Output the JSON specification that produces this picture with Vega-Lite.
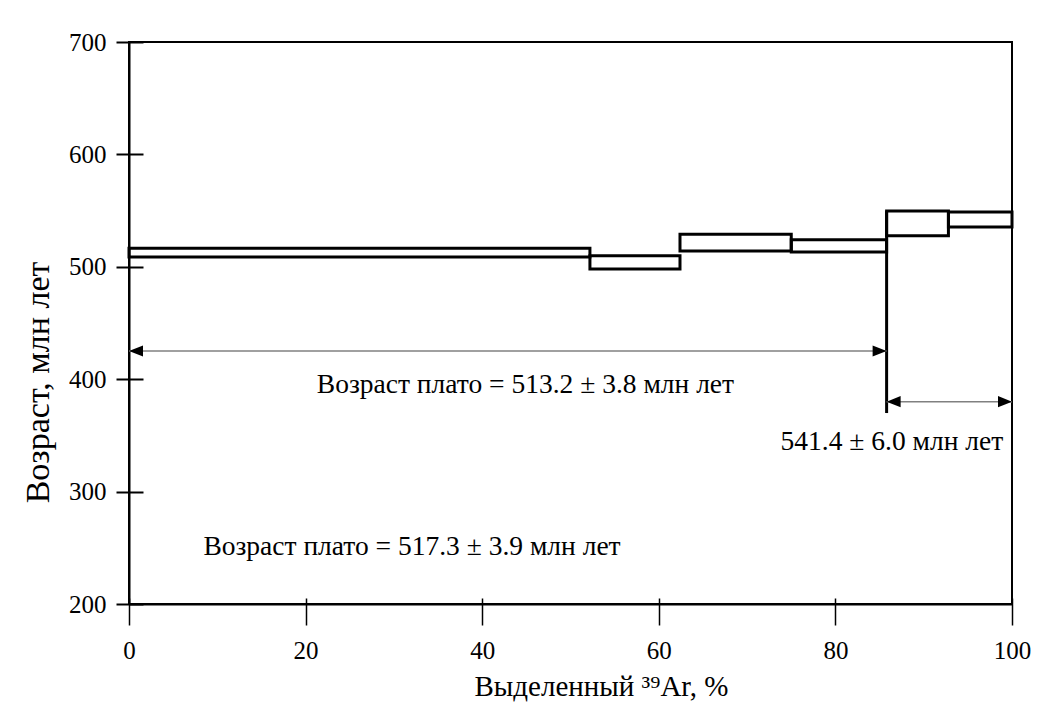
{
  "$schema": "https://vega.github.io/schema/vega-lite/v6.json",
  "width": 883,
  "height": 562,
  "autosize": {"type": "none"},
  "padding": {"left": 129, "top": 42, "right": 37, "bottom": 98},
  "background": "white",
  "config": {
    "view": {"stroke": "black", "strokeWidth": 2},
    "font": "Liberation Serif"
  },
  "resolve": {"axis": {"x": "independent", "y": "independent"}},
  "datasets": {
    "steps": [
      {"x1": 0, "x2": 52.2, "lo": 508.7, "hi": 516.4},
      {"x1": 52.2, "x2": 62.4, "lo": 498.0, "hi": 509.9},
      {"x1": 62.4, "x2": 75.0, "lo": 514.1, "hi": 528.9},
      {"x1": 75.0, "x2": 85.8, "lo": 513.2, "hi": 524.1},
      {"x1": 85.8, "x2": 92.8, "lo": 527.7, "hi": 549.6},
      {"x1": 92.8, "x2": 100, "lo": 535.4, "hi": 548.8}
    ],
    "divider": [{"x": 85.8, "y1": 369.9, "y2": 549.6}],
    "arrows": [
      {"x1": 0, "x2": 85.8, "y": 425.1},
      {"x1": 85.8, "x2": 100, "y": 380.0}
    ],
    "labels": [
      {"x": 44.9, "y": 394.8, "label": "Возраст плато = 513.2 ± 3.8 млн лет"},
      {"x": 86.4, "y": 344.1, "label": "541.4 ± 6.0 млн лет"},
      {"x": 32.05, "y": 250.7, "label": "Возраст плато = 517.3 ± 3.9 млн лет"}
    ]
  },
  "layer": [
    {
      "data": {"name": "steps"},
      "mark": {"type": "rect", "fill": null, "fillOpacity": 0, "stroke": "black", "strokeWidth": 3},
      "encoding": {
        "x": {
          "field": "x1", "type": "quantitative",
          "scale": {"domain": [0, 100], "nice": false, "zero": false},
          "axis": {
            "orient": "bottom",
            "title": "Выделенный ³⁹Ar, %",
            "values": [0, 20, 40, 60, 80, 100],
            "grid": false,
            "domainColor": "black", "domainWidth": 2,
            "tickColor": "black", "tickWidth": 1.5, "tickSize": 21,
            "labelFont": "Liberation Serif", "labelFontSize": 25, "labelColor": "black",
            "labelPadding": 13, "labelFlush": false,
            "titleFont": "Liberation Serif", "titleFontSize": 29, "titleFontWeight": "normal", "titleColor": "black",
            "titleBaseline": "alphabetic", "titleY": 91, "titleX": 472, "titleAlign": "center"
          }
        },
        "x2": {"field": "x2"},
        "y": {
          "field": "lo", "type": "quantitative",
          "scale": {"domain": [200, 700], "nice": false, "zero": false},
          "axis": {
            "orient": "left",
            "title": "Возраст, млн лет",
            "values": [200, 300, 400, 500, 600, 700],
            "grid": false,
            "domainColor": "black", "domainWidth": 2,
            "tickColor": "black", "tickWidth": 2, "tickSize": 13,
            "labelFont": "Liberation Serif", "labelFontSize": 25, "labelColor": "black",
            "labelPadding": 10, "labelFlush": false,
            "titleFont": "Liberation Serif", "titleFontSize": 34, "titleFontWeight": "normal", "titleColor": "black",
            "titleAngle": 270, "titleBaseline": "alphabetic", "titleX": -81, "titleY": 340, "titleAlign": "center"
          }
        },
        "y2": {"field": "hi"}
      }
    },
    {
      "data": {"name": "steps"},
      "mark": {"type": "rect", "opacity": 0},
      "encoding": {
        "x": {"field": "x1", "type": "quantitative", "axis": {"orient": "bottom", "values": [0, 20, 40, 60, 80, 100], "tickSize": -6, "tickWidth": 1.5, "tickColor": "black", "labels": false, "domain": false, "title": null, "grid": false}},
        "y": {"field": "lo", "type": "quantitative", "axis": {"orient": "left", "values": [200, 300, 400, 500, 600, 700], "tickSize": -14, "tickWidth": 2, "tickColor": "black", "labels": false, "domain": false, "title": null, "grid": false}}
      }
    },
    {
      "data": {"name": "divider"},
      "mark": {"type": "rule", "stroke": "black", "strokeWidth": 3},
      "encoding": {
        "x": {"field": "x", "type": "quantitative", "axis": null},
        "y": {"field": "y1", "type": "quantitative", "axis": null},
        "y2": {"field": "y2"}
      }
    },
    {
      "data": {"name": "arrows"},
      "mark": {"type": "rule", "stroke": "#808080", "strokeWidth": 1.5},
      "encoding": {
        "x": {"field": "x1", "type": "quantitative", "axis": null},
        "x2": {"field": "x2"},
        "y": {"field": "y", "type": "quantitative", "axis": null}
      }
    },
    {
      "data": {"name": "arrows"},
      "mark": {"type": "point", "shape": "M0,0L2,-0.8L2,0.8Z", "filled": true, "color": "black", "opacity": 1, "size": 196, "strokeWidth": 0},
      "encoding": {
        "x": {"field": "x1", "type": "quantitative", "axis": null},
        "y": {"field": "y", "type": "quantitative", "axis": null}
      }
    },
    {
      "data": {"name": "arrows"},
      "mark": {"type": "point", "shape": "M0,0L-2,-0.8L-2,0.8Z", "filled": true, "color": "black", "opacity": 1, "size": 196, "strokeWidth": 0},
      "encoding": {
        "x": {"field": "x2", "type": "quantitative", "axis": null},
        "y": {"field": "y", "type": "quantitative", "axis": null}
      }
    },
    {
      "data": {"name": "labels"},
      "mark": {"type": "text", "font": "Liberation Serif", "fontSize": 27.5, "color": "black", "align": "center", "baseline": "middle"},
      "encoding": {
        "x": {"field": "x", "type": "quantitative", "axis": null},
        "y": {"field": "y", "type": "quantitative", "axis": null},
        "text": {"field": "label"}
      }
    }
  ]
}
